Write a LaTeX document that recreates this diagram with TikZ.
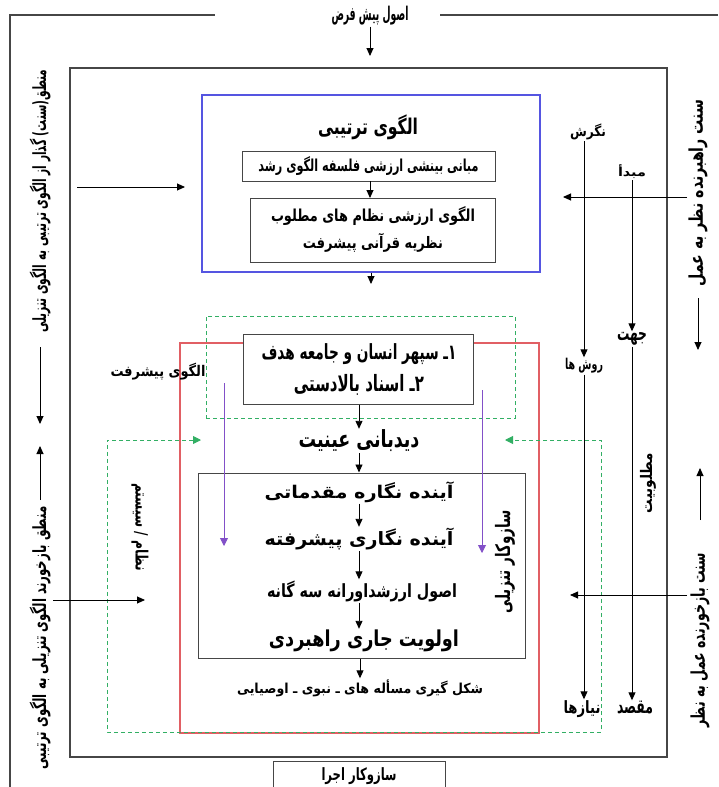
\documentclass[tikz,border=0pt]{standalone}
\usepackage{fontspec}
\usepackage{graphicx}
\usetikzlibrary{arrows.meta}
\TeXXeTstate=1
\newfontfamily\fa[Script=Arabic]{DejaVu Sans}
\newcommand{\ft}[3]{\resizebox*{#1pt}{#2pt}{\fa\bfseries #3}}
\definecolor{blueb}{RGB}{85,85,225}
\definecolor{redb}{RGB}{225,95,100}
\definecolor{greend}{RGB}{50,175,100}
\definecolor{purp}{RGB}{130,80,200}
\definecolor{frm}{RGB}{70,70,70}
\begin{document}
\begin{tikzpicture}[x=1pt,y=-1pt,
  txt/.style={inner sep=1pt},
  frame/.style={draw=frm,line width=1.3pt},
  boxb/.style={draw=frm,line width=1pt,fill=white,inner sep=0pt},
  arr/.style={-{Triangle[length=8pt,width=7pt]},line width=0.9pt},
  garr/.style={draw=greend,line width=0.9pt,dash pattern=on 4pt off 3pt},
  parr/.style={draw=purp,line width=0.9pt,-{Triangle[length=8pt,width=8pt]}}]
\useasboundingbox (0,0) rectangle (718,787);

% outer frame
\node[txt] (top) at (370,16) {\ft{77}{19}{\beginR اصول پیش فرض\endR}};
\coordinate (o1) at (10,787);
\coordinate (o2) at (10,15);
\coordinate (g1) at (215,15);
\coordinate (g2) at (440,15);
\coordinate (o3) at (718,15);
\draw[frame] (o1) -- (o2) -- (g1);
\draw[frame] (g2) -- (o3);
\coordinate (a1) at (370,56);
\draw[arr] (top.south) -- (a1);

% inner frame
\node[frame,minimum width=597pt,minimum height=689pt,inner sep=0pt] (inner) at (368.5,412.5) {};

% blue box
\node[draw=blueb,line width=1.2pt,minimum width=338pt,minimum height=177pt,inner sep=0pt] (blue) at (371,183.5) {};
\node[txt] (ttl) at (368,127) {\ft{100}{25}{\beginR الگوی ترتیبی\endR}};
\node[boxb,minimum width=253pt,minimum height=30pt] (b1) at (368.5,166) {\ft{220}{19}{\beginR مبانی بینشی ارزشی فلسفه الگوی رشد\endR}};
\node[boxb,minimum width=245pt,minimum height=64pt] (b2) at (372.5,230) {};
\node[txt] (b2a) at (373,216) {\ft{204}{19}{\beginR الگوی ارزشی نظام های مطلوب\endR}};
\node[txt] (b2b) at (373,243) {\ft{140}{19}{\beginR نظریه قرآنی پیشرفت\endR}};
\coordinate (c1) at (370,181);
\coordinate (c2) at (370,198);
\draw[arr] (c1) -- (c2);
\coordinate (a2) at (371,284);
\draw[arr] (blue.south) -- (a2);

% red box and green dashed
\node[draw=redb,line width=1.2pt,minimum width=359pt,minimum height=390pt,inner sep=0pt] (red) at (359.5,538) {};
\node[garr,minimum width=309pt,minimum height=102pt,inner sep=0pt] (gtop) at (360.5,367) {};
\node[boxb,minimum width=230pt,minimum height=70pt] (b3) at (358,369) {};
\node[txt] (b3a) at (359,354) {\ft{195}{21}{\beginR ۱ـ سپهر انسان و جامعه هدف\endR}};
\node[txt] (b3b) at (359,385) {\ft{130}{21}{\beginR ۲ـ اسناد بالادستی\endR}};
\node[txt] (did) at (359,441) {\ft{121}{22}{\beginR دیدبانی عینیت\endR}};
\draw[arr] (b3.south -| did.north) -- (did.north);

% inner process box
\node[boxb,fill=none,minimum width=327pt,minimum height=185pt] (pb) at (361.5,565.5) {};
\draw[arr] (did.south) -- (did.south |- pb.north);
\node[txt] (t1) at (359,492) {\ft{189}{21}{\beginR آینده نگاره مقدماتی\endR}};
\node[txt] (t2) at (359,539) {\ft{189}{22}{\beginR آینده نگاری پیشرفته\endR}};
\node[txt] (t3) at (362,591) {\ft{190}{21}{\beginR اصول ارزشداورانه سه گانه\endR}};
\node[txt] (t4) at (364,641) {\ft{190}{22}{\beginR اولویت جاری راهبردی\endR}};
\node[txt] (t5) at (360,688) {\ft{246}{17}{\beginR شکل گیری مسأله های ـ نبوی ـ اوصیایی\endR}};
\draw[arr] (t1.south -| did.south) -- (t2.north -| did.south);
\draw[arr] (t2.south -| did.south) -- (t3.north -| did.south);
\draw[arr] (t3.south -| did.south) -- (t4.north -| did.south);
\draw[arr] (pb.south -| t5.north) -- (t5.north);

% purple arrows
\coordinate (p1) at (224,383); \coordinate (p2) at (224,546);
\coordinate (p3) at (482,390); \coordinate (p4) at (482,553);
\draw[parr] (p1) -- (p2);
\draw[parr] (p3) -- (p4);

% green outer dashed with arrows
\coordinate (q1) at (201,440); \coordinate (q2) at (107,440); \coordinate (q3) at (107,732);
\coordinate (q4) at (601,732); \coordinate (q5) at (601,440); \coordinate (q6) at (505,440);
\draw[garr,{Triangle[length=8pt,width=8pt,fill=greend]}-{Triangle[length=8pt,width=8pt,fill=greend]}] (q1) -- (q2) -- (q3) -- (q4) -- (q5) -- (q6);

% labels inside
\node[txt,rotate=90] (saz) at (505,562) {\ft{103}{20}{\beginR سازوکار تنزیلی\endR}};
\node[txt,rotate=-90] (niz) at (140,527) {\ft{88}{17}{\beginR نظام / سیستم\endR}};
\node[txt] (olg) at (158,372) {\ft{95}{17}{\beginR الگوی پیشرفت\endR}};

% left side
\node[txt,rotate=90] (L1) at (40,201) {\ft{263}{21}{\beginR منطق(سنت) گذار از الگوی ترتیبی به الگوی تنزیلی\endR}};
\coordinate (l1) at (40,347); \coordinate (l2) at (40,424);
\coordinate (l3) at (40,500); \coordinate (l4) at (40,446);
\draw[arr] (l1) -- (l2);
\draw[arr] (l3) -- (l4);
\node[txt,rotate=90] (L2) at (40,638) {\ft{263}{21}{\beginR منطق بازخورند الگوی تنزیلی به الگوی ترتیبی\endR}};
\coordinate (h1) at (77,187); \coordinate (h2) at (185,187);
\draw[arr] (h1) -- (h2);
\coordinate (h3) at (53,600); \coordinate (h4) at (145,600);
\draw[arr] (h3) -- (h4);

% right side
\node[txt,rotate=90] (R1) at (698,193) {\ft{187}{19}{\beginR سنت راهبرنده نظر به عمل\endR}};
\coordinate (r1) at (698,298); \coordinate (r2) at (698,350);
\draw[arr] (r1) -- (r2);
\coordinate (r3) at (700,520); \coordinate (r4) at (700,468);
\draw[arr] (r3) -- (r4);
\node[txt,rotate=90] (R2) at (700,640) {\ft{174}{19}{\beginR سنت بازخورنده عمل به نظر\endR}};
\coordinate (h5) at (687,197); \coordinate (h6) at (563,197);
\draw[arr] (h5) -- (h6);
\coordinate (h7) at (687,595); \coordinate (h8) at (570,595);
\draw[arr] (h7) -- (h8);

\node[txt] (ng) at (588,132) {\ft{36}{16}{\beginR نگرش\endR}};
\node[txt] (rv) at (584,366) {\ft{38}{15}{\beginR روش ها\endR}};
\node[txt] (nz) at (582,709) {\ft{37}{17}{\beginR نیازها\endR}};
\node[txt] (mb) at (632,172) {\ft{28}{14}{\beginR مبدأ\endR}};
\node[txt] (jh) at (632,339) {\ft{30}{13}{\beginR جهت\endR}};
\node[txt] (mq) at (635,708) {\ft{36}{13}{\beginR مقصد\endR}};
\node[txt,rotate=90] (mt) at (648,483) {\ft{60}{16}{\beginR مطلوبیت\endR}};
\draw[arr] (ng.south -| rv.north) -- (rv.north);
\draw[arr] (rv.south) -- (rv.south |- nz.north);
\draw[arr] (mb.south) -- (jh.north);
\draw[arr] (jh.south) -- (jh.south |- mq.north);

% bottom
\node[boxb,minimum width=172pt,minimum height=40pt,anchor=north] (ej) at (359,761) {};
\node[txt] (ejt) at (359,776) {\ft{75}{17}{\beginR سازوکار اجرا\endR}};
\end{tikzpicture}
\end{document}
